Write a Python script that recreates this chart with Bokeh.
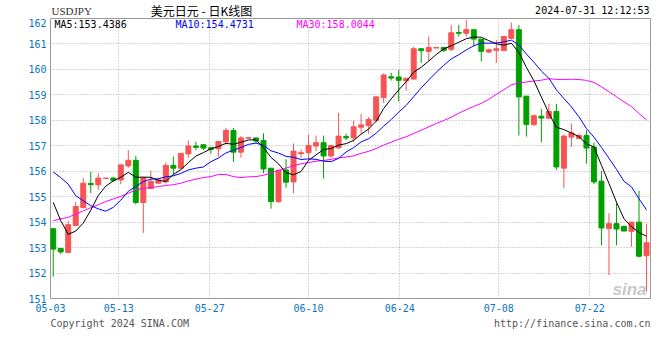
import pandas as pd
from bokeh.plotting import figure
from bokeh.layouts import column
from bokeh.models import ColumnDataSource, Range1d, FixedTicker, Label
from bokeh.embed import file_html
from bokeh.resources import INLINE

# ---------------- data ----------------
opens = [153.74, 152.96, 152.81, 153.87, 154.57, 155.52, 155.47, 155.72, 155.73, 155.66,
         156.21, 156.43, 154.77, 155.32, 155.53, 155.58, 156.23, 156.12, 156.68, 156.99,
         157.04, 156.92, 156.88, 157.16, 157.60, 156.75, 157.30, 157.31, 157.21, 156.12,
         154.81, 156.05, 155.58, 156.69, 156.73, 156.99, 157.12, 156.60, 156.92, 157.36,
         157.31, 157.73, 157.79, 157.99, 158.90, 159.71, 159.70, 159.55, 159.62, 160.81,
         160.71, 160.84, 160.86, 160.79, 161.45, 161.42, 161.56, 161.19, 160.68, 160.75,
         160.74, 161.22, 161.56, 158.95, 157.83, 158.16, 158.08, 158.35, 156.12, 157.34,
         157.29, 157.40, 156.95, 155.61, 153.75, 153.94, 153.83, 153.64, 154.00, 152.68]
highs = [153.76, 152.97, 154.04, 154.79, 155.73, 155.97, 155.92, 155.73, 155.78, 156.25,
         156.83, 156.60, 155.75, 156.03, 155.71, 156.35, 156.58, 156.70, 157.21, 157.16,
         157.04, 156.96, 157.17, 157.70, 157.70, 157.38, 157.32, 157.31, 157.49, 156.12,
         156.04, 156.47, 157.09, 156.86, 157.44, 157.40, 157.40, 157.01, 158.29, 157.47,
         157.99, 158.25, 158.13, 158.96, 159.84, 159.87, 159.97, 159.65, 160.88, 160.83,
         161.29, 160.86, 160.88, 161.75, 161.75, 161.95, 161.56, 161.19, 160.81, 161.16,
         161.29, 161.84, 161.75, 158.95, 158.22, 158.45, 158.65, 158.65, 157.45, 157.87,
         157.47, 157.61, 157.12, 156.01, 154.36, 154.75, 153.87, 154.00, 155.23, 153.94]
lows = [151.86, 152.74, 152.81, 153.87, 154.57, 155.14, 155.27, 155.72, 155.58, 155.49,
        156.14, 154.69, 153.58, 155.30, 155.53, 155.53, 155.84, 156.08, 156.53, 156.83,
        156.83, 156.69, 156.57, 157.05, 156.36, 156.53, 157.30, 157.10, 155.92, 154.53,
        154.75, 155.35, 155.13, 156.53, 156.43, 156.79, 155.71, 156.53, 156.86, 157.22,
        157.14, 157.47, 157.47, 157.94, 158.68, 159.56, 158.74, 159.17, 159.62, 160.25,
        160.32, 160.84, 160.68, 160.71, 161.29, 161.29, 160.91, 160.32, 160.64, 160.25,
        160.74, 161.19, 157.40, 157.36, 157.79, 157.14, 158.08, 156.05, 155.34, 156.95,
        157.25, 156.30, 155.49, 153.09, 151.92, 153.09, 153.65, 153.03, 152.61, 151.27]
closes = [152.94, 152.83, 153.90, 154.61, 155.53, 155.47, 155.73, 155.73, 155.64, 156.25,
          156.43, 154.77, 155.75, 155.60, 155.66, 156.23, 156.12, 156.70, 156.99, 156.94,
          156.91, 156.86, 157.17, 157.60, 156.75, 157.31, 157.32, 157.19, 156.09, 154.81,
          156.04, 155.57, 156.79, 156.73, 157.01, 157.12, 156.60, 157.01, 157.38, 157.31,
          157.75, 157.82, 158.03, 158.92, 159.78, 159.66, 159.57, 159.65, 160.81, 160.74,
          160.86, 160.86, 160.75, 161.44, 161.42, 161.56, 161.19, 160.71, 160.77, 160.81,
          161.29, 161.56, 158.92, 157.84, 158.18, 158.09, 158.35, 156.17, 157.38, 157.51,
          157.40, 156.91, 155.58, 153.77, 153.94, 153.73, 153.65, 154.00, 152.66, 153.19]

# moving-average values at the start of the window (they depend on earlier days)
ma5_head = [154.78, 154.06, 153.52, 153.65]
ma10_head = [155.97, 155.75, 155.49, 155.04, 154.84, 154.65, 154.52, 154.43, 154.58]
ma30_head = [154.05, 154.13, 154.19, 154.32, 154.44, 154.57, 154.68, 154.81, 154.91, 155.01,
             155.13, 155.27, 155.32, 155.36, 155.40, 155.44, 155.47, 155.53, 155.62, 155.69,
             155.75, 155.79, 155.87, 155.87, 155.79, 155.75, 155.78, 155.79, 155.84]

date_labels = ["05-03", "05-13", "05-27", "06-10", "06-24", "07-08", "07-22"]
y_ticks = [151, 152, 153, 154, 155, 156, 157, 158, 159, 160, 161, 162]

symbol = "USDJPY"
title_text = "美元日元 - 日K线图"
stamp = "2024-07-31 12:12:53"
ma5_text = "MA5:153.4386"
ma10_text = "MA10:154.4731"
ma30_text = "MA30:158.0044"
copyright_text = "Copyright 2024 SINA.COM"
url_text = "http://finance.sina.com.cn"

# ---------------- derived ----------------
n = len(closes)
idx = list(range(n))
cs = pd.Series(closes)


def moving(window, head):
    m = cs.rolling(window).mean().tolist()
    return head + m[len(head):]


ma5 = moving(5, ma5_head)
ma10 = moving(10, ma10_head)
ma30 = moving(30, ma30_head)

RED = "#f65454"
GREEN = "#00a000"
colors = [RED if c >= o else GREEN for o, c in zip(opens, closes)]
src = ColumnDataSource(dict(
    x=idx, o=opens, h=highs, l=lows, c=closes,
    top=[max(o, c) for o, c in zip(opens, closes)],
    bot=[min(o, c) for o, c in zip(opens, closes)],
    color=colors))

W = 660
LEFT, RIGHT = 50, 10
HEAD_H = 18
FRAME_H = 280
MAIN_BOTTOM = 17
FOOT_H = 360 - HEAD_H - FRAME_H - MAIN_BOTTOM
MONO = "DejaVu Sans Mono"


def blank(height):
    f = figure(width=W, height=height, output_backend="svg", toolbar_location=None,
               x_axis_location=None, y_axis_location=None,
               x_range=Range1d(0, W - LEFT - RIGHT), y_range=Range1d(0, height),
               min_border_left=LEFT, min_border_right=RIGHT,
               min_border_top=0, min_border_bottom=0, border_fill_color="white")
    f.grid.visible = False
    f.outline_line_color = None
    return f


def put(f, text, px, sy, color, font, size, align="left", style="normal"):
    # px: page x; sy: frame-relative y (from the bottom)
    f.add_layout(Label(x=px - LEFT, y=sy, x_units="screen", y_units="screen",
                       text=text, text_color=color, text_font=font,
                       text_font_size=size, text_align=align,
                       text_baseline="middle", text_font_style=style))


# ---------------- header ----------------
head = blank(HEAD_H)
put(head, symbol, 51, HEAD_H - 10, "#333333", "Liberation Serif", "11px")
put(head, title_text, 201, HEAD_H - 9.5, "#000000", "Noto Sans CJK SC", "12px", "center")
put(head, stamp, 649, HEAD_H - 10, "#000000", MONO, "10px", "right")

# ---------------- main chart ----------------
X0, X1 = -0.36, 79.53
Y0, Y1 = 151, 162
p = figure(width=W, height=FRAME_H + MAIN_BOTTOM, output_backend="svg",
           toolbar_location=None,
           x_range=Range1d(X0, X1), y_range=Range1d(Y0, Y1),
           min_border_left=LEFT, min_border_right=RIGHT, min_border_top=0,
           min_border_bottom=MAIN_BOTTOM, background_fill_color="white",
           border_fill_color="white")
p.outline_line_color = "#999999"
p.outline_line_width = 1

tick_pos = [X0, 8.74, 20.85, 34.0, 46.15, 59.33, 71.45]
p.xaxis.ticker = FixedTicker(ticks=tick_pos)
p.xaxis.major_label_overrides = {t: lab for t, lab in zip(tick_pos, date_labels)}
p.yaxis.ticker = FixedTicker(ticks=y_ticks)
for ax in (p.xaxis[0], p.yaxis[0]):
    ax.axis_line_color = None
    ax.major_tick_line_color = None
    ax.minor_tick_line_color = None
    ax.major_tick_out = 0
    ax.major_tick_in = 0
    ax.minor_tick_out = 0
    ax.major_label_text_color = "#0a75c2"
    ax.major_label_text_font = MONO
    ax.major_label_text_font_size = "10px"
p.yaxis.major_label_standoff = 4
p.xaxis.major_label_standoff = 5

p.xgrid.ticker = FixedTicker(ticks=tick_pos[1:])
p.ygrid.ticker = FixedTicker(ticks=y_ticks[1:-1])
for g in (p.xgrid[0], p.ygrid[0]):
    g.grid_line_color = "#aaaaaa"
    g.grid_line_dash = "1 2"
    g.grid_line_width = 1

p.segment(x0="x", y0="l", x1="x", y1="h", color="color", line_width=1, source=src)
p.vbar(x="x", width=0.66, top="top", bottom="bot", fill_color="color",
       line_color="color", line_width=1, source=src)

p.line(idx, ma30, line_color="#ff00ff", line_width=1)
p.line(idx, ma10, line_color="#0000ff", line_width=1)
p.line(idx, ma5, line_color="#000000", line_width=1)

put(p, ma5_text, 54, FRAME_H - 6, "#000000", MONO, "10px")
put(p, ma10_text, 175, FRAME_H - 6, "#0000ff", MONO, "10px")
put(p, ma30_text, 296, FRAME_H - 6, "#ff00ff", MONO, "10px")
put(p, "sina", 629, 9, "#c8c8c8", "Liberation Sans", "17px", "center", "bold italic")

# ---------------- footer ----------------
foot = blank(FOOT_H)
put(foot, copyright_text, 50, FOOT_H - (323 - 315), "#555555", MONO, "10px")
put(foot, url_text, 650, FOOT_H - (323 - 315), "#555555", MONO, "10px", "right")

layout = column(head, p, foot, spacing=0)
open("out.html", "w").write(file_html(layout, INLINE))
